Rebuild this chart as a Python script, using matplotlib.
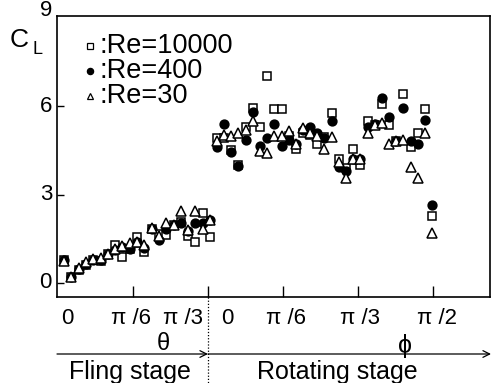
import matplotlib
matplotlib.use("Agg")
import matplotlib.pyplot as plt
from matplotlib.lines import Line2D

plt.rcParams['font.family'] = ['Liberation Sans', 'DejaVu Sans']

# ---- data (degrees) ----
fling_theta = [2.4, 5.3, 8.2, 11.2, 14.1, 17.0, 19.9, 22.8, 25.8, 28.7, 31.6,
               34.5, 37.4, 40.4, 43.3, 46.2, 49.1, 52.0, 55.0, 57.9, 60.8]
fling_re10000 = [0.80, 0.20, 0.45, 0.60, 0.80, 0.75, 0.98, 1.30, 0.88, 1.15, 1.55,
                 1.05, 1.82, 1.68, 1.62, 1.98, 2.08, 1.60, 1.39, 2.36, 1.55]
fling_re400 = [0.78, 0.22, 0.48, 0.65, 0.80, 0.80, 1.00, 1.12, 1.22, 1.15, 1.38,
               1.20, 1.85, 1.45, 1.85, 1.96, 2.05, 1.75, 2.03, 2.03, 2.13]
fling_re30 = [0.75, 0.22, 0.52, 0.72, 0.83, 0.85, 1.00, 1.15, 1.25, 1.35, 1.38,
              1.30, 1.88, 1.60, 2.03, 1.98, 2.43, 1.80, 2.43, 1.82, 2.15]

rot_phi = [3.6, 6.5, 9.3, 12.2, 15.1, 17.9, 20.8, 23.7, 26.6, 29.4, 32.3,
           35.2, 38.0, 40.9, 43.8, 46.6, 49.5, 52.4, 55.3, 58.1, 61.0,
           63.9, 66.7, 69.6, 72.5, 75.3, 78.2, 81.1, 84.0, 86.8, 89.7]
rot_re10000 = [4.90, 4.90, 4.50, 4.00, 5.30, 5.95, 5.30, 7.03, 5.90, 5.90, 5.00,
               4.53, 5.10, 5.03, 4.70, 4.95, 5.78, 4.22, 3.89, 4.56, 3.99,
               5.50, 5.35, 6.08, 5.37, 4.80, 6.42, 4.60, 5.10, 5.91, 2.26]
rot_re400 = [4.60, 5.40, 4.45, 3.98, 4.86, 5.81, 4.63, 4.90, 5.40, 4.66, 4.86,
             4.73, 5.20, 5.30, 5.10, 4.93, 5.50, 3.92, 3.80, 4.22, 4.22,
             5.30, 5.40, 6.28, 5.64, 4.80, 5.95, 4.80, 4.73, 5.54, 2.63]
rot_re30 = [4.80, 5.03, 4.97, 5.07, 5.20, 5.50, 4.46, 4.40, 5.00, 5.00, 5.17,
            4.70, 5.27, 5.10, 5.00, 4.53, 4.95, 4.10, 3.55, 4.22, 4.22,
            5.10, 5.35, 5.44, 4.73, 4.80, 4.86, 3.92, 3.55, 5.10, 1.69]

legend_labels = [':Re=10000', ':Re=400', ':Re=30']
xtick_labels = ['0', 'π /6', 'π /3', '0', 'π /6', 'π /3', 'π /2']
ytick_vals = [0, 3, 6, 9]

W, H = 493, 383
fig = plt.figure(figsize=(W / 100, H / 100), dpi=100)


def fx(px):
    return px / W


def fy(py):
    return 1 - py / H


ax = fig.add_axes([fx(57), fy(297), fx(490) - fx(57), fy(16) - fy(297)])
ax.set_xlim(-0.4, 172.8)
ax.set_ylim(-0.47, 9.05)

off = 60.0
xs_f = fling_theta
xs_r = [off + p for p in rot_phi]

ms = 6.3
mew = 1.1
sq = dict(marker='s', linestyle='none', ms=ms, mfc='white', mec='black', mew=mew)
ci = dict(marker='o', linestyle='none', ms=ms, mfc='black', mec='black', mew=mew)
tr = dict(marker='^', linestyle='none', ms=ms + 0.6, mfc='white', mec='black', mew=mew)

ax.plot(xs_f, fling_re10000, **sq)
ax.plot(xs_r, rot_re10000, **sq)
ax.plot(xs_f, fling_re400, **ci)
ax.plot(xs_r, rot_re400, **ci)
ax.plot(xs_f, fling_re30, **tr)
ax.plot(xs_r, rot_re30, **tr)

for s in ax.spines.values():
    s.set_linewidth(1.2)

ax.set_xticks([30, 60, 90, 120, 150])
ax.set_xticklabels([])
ax.tick_params(axis='x', direction='in', length=8, width=1)
ax.set_yticks([0, 3, 6])
ax.set_yticklabels([])
ax.tick_params(axis='y', direction='in', length=5, width=1)

# y tick labels
ytick_py = [283, 194, 106, 10]
for v, py in zip(ytick_vals, ytick_py):
    fig.text(fx(52), fy(py), str(v), ha='right', va='center', fontsize=16)

# C_L label
fig.text(fx(10), fy(40), 'C', ha='left', va='center', fontsize=19)
fig.text(fx(32), fy(49), 'L', ha='left', va='center', fontsize=13)

# legend
leg_y = [46, 71, 96]
leg_m = [sq, ci, tr]
for lbl, py, m in zip(legend_labels, leg_y, leg_m):
    mm = dict(m)
    mm['ms'] = 4.5
    mm['mew'] = 0.9
    fig.add_artist(Line2D([fx(90)], [fy(py)], transform=fig.transFigure, **mm))
    fig.text(fx(99), fy(py), lbl, ha='left', va='center', fontsize=19.5)

# x tick labels
xl_px = [67, 131, 183, 227, 286, 360, 437]
for lbl, px in zip(xtick_labels, xl_px):
    fig.text(fx(px), fy(319), lbl, ha='center', va='center', fontsize=16)

# theta / phi
fig.text(fx(163), fy(344), 'θ', ha='center', va='center', fontsize=17)
fig.text(fx(405), fy(346), 'ϕ', ha='center', va='center', fontsize=18)

# arrows
ap = dict(arrowstyle='->', lw=0.9, color='black', mutation_scale=12,
          shrinkA=0, shrinkB=0)
fig.add_artist(matplotlib.patches.FancyArrowPatch((fx(57), fy(354)), (fx(208), fy(354)),
                                                  transform=fig.transFigure, **ap))
fig.add_artist(matplotlib.patches.FancyArrowPatch((fx(208), fy(354)), (fx(491), fy(354)),
                                                  transform=fig.transFigure, **ap))
# dotted divider
fig.add_artist(Line2D([fx(208), fx(208)], [fy(297), fy(383)], transform=fig.transFigure,
                      color='black', lw=0.9, linestyle=(0, (1, 1.5))))

# stage labels
fig.text(fx(130), fy(372), 'Fling stage', ha='center', va='center', fontsize=18)
fig.text(fx(337), fy(372), 'Rotating stage', ha='center', va='center', fontsize=18)

fig.savefig('out.png', dpi=100)
